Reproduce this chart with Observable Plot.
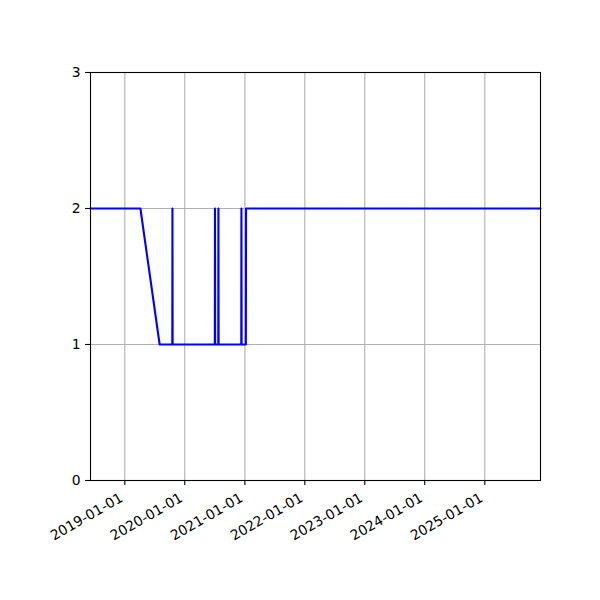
<!DOCTYPE html>
<html>
<head>
<meta charset="utf-8">
<script src="https://cdn.jsdelivr.net/npm/d3@7"></script>
<script src="https://cdn.jsdelivr.net/npm/@observablehq/plot@0.6"></script>
<style>
  html, body { margin: 0; padding: 0; background: white; }
</style>
</head>
<body>
<div id="chart"></div>
<script>
const dates = [
  "2018-06-06", "2019-04-06", "2019-08-01",
  "2019-10-17", "2019-10-18", "2019-10-19",
  "2020-07-02", "2020-07-03", "2020-07-04",
  "2020-07-23", "2020-07-24", "2020-07-25",
  "2020-12-10", "2020-12-11", "2020-12-12",
  "2021-01-07", "2021-01-08", "2025-12-06"
];
const values = [
  2, 2, 1,
  1, 2, 1,
  1, 2, 1,
  1, 2, 1,
  1, 2, 1,
  1, 2, 2
];
const xTickLabels = ["2019-01-01", "2020-01-01", "2021-01-01", "2022-01-01", "2023-01-01", "2024-01-01", "2025-01-01"];
const yTicks = [0, 1, 2, 3];
const xDomain = ["2018-06-06", "2025-12-06"];

const parse = d3.utcParse("%Y-%m-%d");
const data = dates.map((d, i) => ({date: parse(d), value: values[i]}));
const xTicks = xTickLabels.map(parse);
const fmt = d3.utcFormat("%Y-%m-%d");

const plot = Plot.plot({
  width: 600,
  height: 600,
  marginLeft: 90,
  marginRight: 60,
  marginTop: 72,
  marginBottom: 120,
  style: {fontFamily: "DejaVu Sans", fontSize: "13.9px", color: "black", background: "white"},
  x: {type: "utc", domain: xDomain.map(parse)},
  y: {domain: [0, 3]},
  marks: [
    Plot.gridX(xTicks, {stroke: "#b0b0b0", strokeOpacity: 1, strokeWidth: 1.1}),
    Plot.gridY(yTicks, {stroke: "#b0b0b0", strokeOpacity: 1, strokeWidth: 1.1}),
    Plot.line(data, {x: "date", y: "value", stroke: "blue", strokeWidth: 2.1}),
    Plot.frame({stroke: "black", strokeWidth: 1.1}),
    Plot.axisX({ticks: xTicks, tickSize: 4.9, tickFormat: () => "", strokeWidth: 1.1, label: null}),
    Plot.text(xTicks, {
      x: d => d, y: () => 0, text: d => fmt(d),
      rotate: -30, textAnchor: "end", lineAnchor: "bottom",
      dx: -1, dy: 20, fontSize: 13.9, fill: "black"
    }),
    Plot.axisY({ticks: yTicks, tickSize: 4.9, tickPadding: 4.9, tickFormat: d => String(d), strokeWidth: 1.1, label: null, fontSize: 13.9})
  ]
});
document.getElementById("chart").appendChild(plot);
</script>
</body>
</html>
